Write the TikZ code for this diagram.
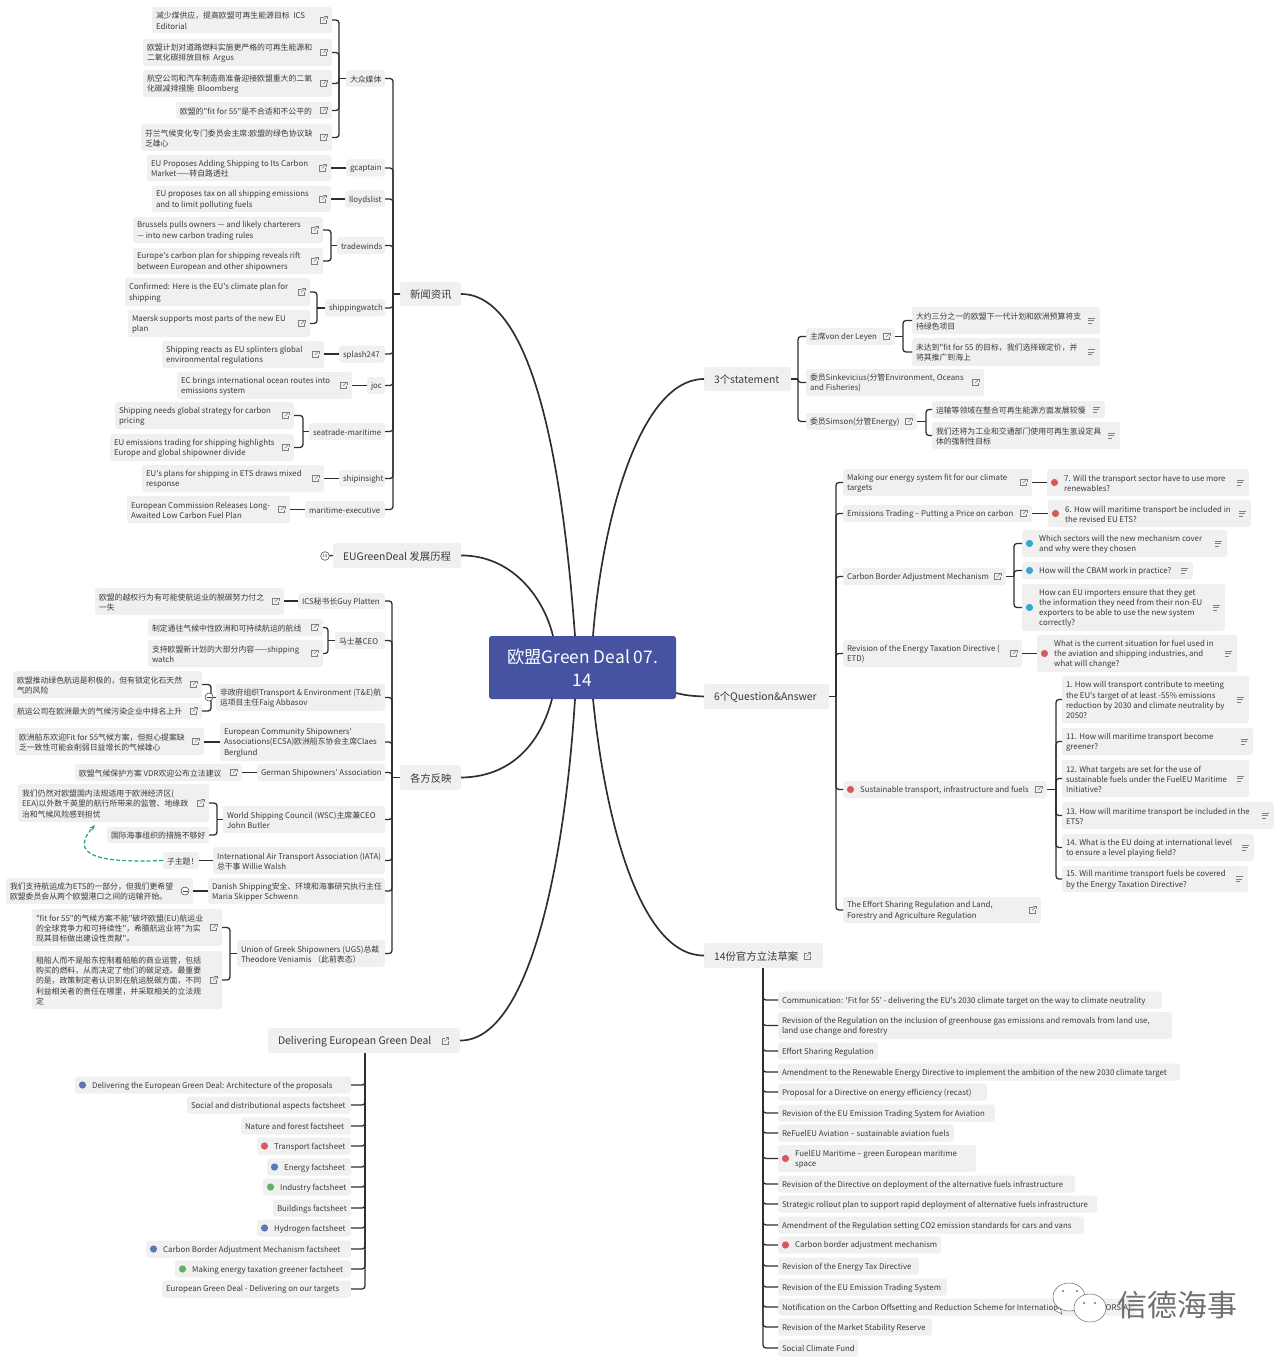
\documentclass[tikz,border=0pt]{standalone}
\usepackage{fontspec}
\newfontfamily\nf{Noto Sans CJK SC}
\setmainfont{Noto Sans CJK SC}
\usetikzlibrary{arrows.meta,calc}
\definecolor{boxg}{HTML}{F0F0F0}
\definecolor{linec}{HTML}{2E2E2E}
\definecolor{txt}{HTML}{3A3A3A}
\definecolor{rootb}{HTML}{4553A0}
\definecolor{dotr}{HTML}{D65A5A}
\definecolor{dotc}{HTML}{39A5D0}
\definecolor{dotb}{HTML}{5A78B4}
\definecolor{dotg}{HTML}{63AE63}
\definecolor{teal1}{HTML}{2A9D8F}
\definecolor{wmc}{HTML}{707070}
\tikzset{
 box/.style={fill=boxg,rounded corners=2pt,inner sep=0pt,outer sep=0pt,text=txt},
 conn/.style={draw=linec,line width=0.95pt},
 branch/.style={draw=linec,line width=1.25pt},
 iconl/.style={draw=#1,line width=0.4pt},
 iconl/.default=gray
}
\def\curpad{3}
\def\curfont{\nf\fontsize{5.9}{7.7}\selectfont}
\newcommand\iL[2]{\begin{scope}[shift={(#1,#2)}]\draw[iconl] (0,-3) -- (-3,-3) -- (-3,3) -- (3,3) -- (3,0);\draw[iconl] (-0.5,0.5) -- (3.5,-3.5);\draw[iconl] (0.8,-3.5) -- (3.5,-3.5) -- (3.5,-0.8);\end{scope}}
\newcommand\iN[2]{\begin{scope}[shift={(#1,#2)}]\draw[iconl] (-3.5,-2.5) -- (3.5,-2.5);\draw[iconl] (-3.5,0) -- (2,0);\draw[iconl] (-3.5,2.5) -- (0.5,2.5);\end{scope}}
\newcommand\iM[2]{\begin{scope}[shift={(#1,#2)}]\draw[iconl=darkgray,fill=white] (0,0) circle[radius=3pt];\draw[iconl=darkgray] (-2.5,0) -- (2.5,0);\end{scope}}
\newcommand\iO[2]{}
% name x0 y0 x1 y1 icon dot text
\newcommand\tb[8]{%
 \pgfmathsetmacro\bw{(#4-#2)*0.75}%
 \pgfmathsetmacro\bh{(#5-#3)*0.75}%
 \pgfmathsetmacro\bcx{(#2+#4)/2}%
 \pgfmathsetmacro\bcy{(#3+#5)/2}%
 \if\relax\detokenize{#7}\relax\def\bp{\curpad}\else\def\bp{12.9}\fi
 \node[box,minimum width=\bw pt,minimum height=\bh pt] (#1) at (\bcx,\bcy) {\curfont\hspace*{\bp pt}\rlap{\parbox[c]{900pt}{\vspace*{1.2pt}\raggedright #8}}\hspace*{\dimexpr\bw pt-\bp pt\relax}};
 \if\relax\detokenize{#7}\relax\else\fill[#7] ($(#2,\bcy)+(7.5,0)$) circle[radius=2.7pt];\fi
 \pgfmathsetmacro\bix{#4-8.5}%
 #6{\bix}{\bcy}%
}
\newcommand\lkL[3]{\coordinate (sp) at (#3,0);\draw[conn] (#1.west) -- (sp |- #1.west);\draw[conn,rounded corners=2.2pt] (sp |- #1.west) -- (sp |- #2.east) -- (#2.east);}
\newcommand\lkR[3]{\coordinate (sp) at (#3,0);\draw[conn] (#1.east) -- (sp |- #1.east);\draw[conn,rounded corners=2.2pt] (sp |- #1.east) -- (sp |- #2.west) -- (#2.west);}
\newcommand\lkDL[3]{\coordinate (sp) at (#3,0);\draw[conn,rounded corners=2.2pt] (sp |- #1.south) -- (sp |- #2.east) -- (#2.east);}
\newcommand\lkDR[3]{\coordinate (sp) at (#3,0);\draw[conn,rounded corners=2.2pt] (sp |- #1.south) -- (sp |- #2.west) -- (#2.west);}
\newcommand\lkSL[2]{\draw[conn] (#1.west) -- (#1.west -| #2.east);}
\newcommand\lkSR[2]{\draw[conn] (#1.east) -- (#1.east -| #2.west);}
\begin{document}
\begin{tikzpicture}[x=0.75pt,y=-0.75pt]
\useasboundingbox (0,0) rectangle (1280,1362);
\fill[white] (0,0) rectangle (1280,1362);
% root
\node[fill=rootb,rounded corners=2pt,minimum width=140.25pt,minimum height=47.25pt,inner sep=0pt,text=white,align=center,font=\nf\fontsize{13}{17.5}\selectfont] (root) at (582.5,667.5) {欧盟Green Deal 07.\\14};
\coordinate (rN) at (575,636);\coordinate (rE) at (553,636);\coordinate (rF) at (552,699);\coordinate (rD) at (575,699);
\coordinate (rS) at (593,636);\coordinate (rQ) at (676,693);\coordinate (rL) at (593,699);
% level 1
\def\curpad{7.5}\def\curfont{\nf\fontsize{7.8}{10}\selectfont}
\tb{news}{400}{282}{461}{306}{\iO}{}{新闻资讯}
\tb{eugd}{333}{543}{461}{568}{\iO}{}{EUGreenDeal 发展历程}
\tb{resp}{400}{765}{461}{790}{\iO}{}{各方反映}
\tb{deliv}{268}{1028}{460}{1053}{\iO}{}{Delivering European Green Deal}
\iL{445}{1041}
\tb{stmt}{704}{367}{791}{391}{\iO}{}{3个statement}
\tb{qa}{704}{684}{829}{709}{\iO}{}{6个Question\&Answer}
\tb{laws}{704}{943}{823}{968}{\iO}{}{14份官方立法草案}
\iL{807}{956}
\def\curpad{3}\def\curfont{\nf\fontsize{5.9}{7.7}\selectfont}
\draw[branch] (news.east) .. controls (540,294) and (565,500) .. (rN);
\draw[branch] (eugd.east) .. controls (510,555) and (543,595) .. (rE);
\draw[branch] (resp.east) .. controls (510,777) and (540,745) .. (rF);
\draw[branch] (deliv.east) .. controls (530,1041) and (565,860) .. (rD);
\draw[branch] (stmt.west) .. controls (640,379) and (602,520) .. (rS);
\draw[branch] (qa.west) .. controls (695,696) and (688,696) .. (rQ);
\draw[branch] (laws.west) .. controls (640,956) and (605,820) .. (rL);
% counter
\node[circle,draw=darkgray,line width=0.4pt,minimum size=6.5pt,inner sep=0pt,font=\nf\fontsize{3.2}{4}\selectfont,text=txt] (cnt) at (325,556) {19};
\draw[conn] (cnt) -- (eugd.west);
% News
\tb{m0}{346}{70}{385}{87}{\iO}{}{大众媒体}
\tb{m1}{152}{7}{332}{33}{\iL}{}{减少煤供应，提高欧盟可再生能源目标 \ ICS\\Editorial}
\tb{m2}{143}{39}{332}{66}{\iL}{}{欧盟计划对道路燃料实施更严格的可再生能源和\\二氧化碳排放目标 \ Argus}
\tb{m3}{143}{70}{332}{97}{\iL}{}{航空公司和汽车制造商准备迎接欧盟重大的二氧\\化碳减排措施 \ Bloomberg}
\tb{m4}{176}{102}{332}{119}{\iL}{}{欧盟的"fit for 55"是不合适和不公平的}
\tb{m5}{141}{124}{332}{151}{\iL}{}{芬兰气候变化专门委员会主席:欧盟的绿色协议缺\\乏雄心}
\lkL{m0}{m1}{339}\lkL{m0}{m2}{339}\lkL{m0}{m3}{339}\lkL{m0}{m4}{339}\lkL{m0}{m5}{339}
\tb{g0}{346}{159.5}{385}{176.5}{\iO}{}{gcaptain}
\tb{g1}{147}{155}{331}{181}{\iL}{}{EU Proposes Adding Shipping to Its Carbon\\Market——转自路透社}
\lkSL{g0}{g1}
\tb{l0}{345}{190.5}{385}{207.5}{\iO}{}{lloydslist}
\tb{l1}{152}{186}{331}{212}{\iL}{}{EU proposes tax on all shipping emissions\\and to limit polluting fuels}
\lkSL{l0}{l1}
\tb{t0}{337}{237}{385}{254}{\iO}{}{tradewinds}
\tb{t1}{133}{217}{323}{243}{\iL}{}{Brussels pulls owners — and likely charterers\\— into new carbon trading rules}
\tb{t2}{133}{248}{323}{274}{\iL}{}{Europe's carbon plan for shipping reveals rift\\between European and other shipowners}
\lkL{t0}{t1}{331}\lkL{t0}{t2}{331}
\tb{s0}{325}{299.5}{385}{316.5}{\iO}{}{shippingwatch}
\tb{s1}{125}{278}{310}{306}{\iL}{}{Confirmed: Here is the EU's climate plan for\\shipping}
\tb{s2}{128}{310}{310}{337}{\iL}{}{Maersk supports most parts of the new EU\\plan}
\lkL{s0}{s1}{317}\lkL{s0}{s2}{317}
\tb{p0}{339}{345.5}{385}{362.5}{\iO}{}{splash247}
\tb{p1}{162}{341}{324}{368}{\iL}{}{Shipping reacts as EU splinters global\\environmental regulations}
\lkSL{p0}{p1}
\tb{j0}{367}{377}{385}{394}{\iO}{}{joc}
\tb{j1}{177}{372}{352}{399}{\iL}{}{EC brings international ocean routes into\\emissions system}
\lkSL{j0}{j1}
\tb{e0}{309}{423}{385}{440}{\iO}{}{seatrade-maritime}
\tb{e1}{115}{402}{294}{429}{\iL}{}{Shipping needs global strategy for carbon\\pricing}
\tb{e2}{110}{434}{294}{461}{\iL}{}{EU emissions trading for shipping highlights\\Europe and global shipowner divide}
\lkL{e0}{e1}{303}\lkL{e0}{e2}{303}
\tb{i0}{339}{470}{385}{487}{\iO}{}{shipinsight}
\tb{i1}{142}{465}{324}{492}{\iL}{}{EU's plans for shipping in ETS draws mixed\\response}
\lkSL{i0}{i1}
\tb{x0}{305}{501}{385}{518}{\iO}{}{maritime-executive}
\tb{x1}{127}{496}{290}{523}{\iL}{}{European Commission Releases Long-\\Awaited Low Carbon Fuel Plan}
\lkSL{x0}{x1}
\lkL{news}{m0}{393}\lkL{news}{g0}{393}\lkL{news}{l0}{393}\lkL{news}{t0}{393}\lkL{news}{s0}{393}\lkL{news}{p0}{393}\lkL{news}{j0}{393}\lkL{news}{e0}{393}\lkL{news}{i0}{393}\lkL{news}{x0}{393}
% Responses
\tb{a0}{298}{593}{385}{609}{\iO}{}{ICS秘书长Guy Platten}
\tb{a1}{95}{588}{284}{615}{\iL}{}{欧盟的越权行为有可能使航运业的脱碳努力付之\\一失}
\lkSL{a0}{a1}
\tb{b0}{335}{632}{385}{649}{\iO}{}{马士基CEO}
\tb{b1}{148}{619}{323}{636}{\iL}{}{制定通往气候中性欧洲和可持续航运的航线}
\tb{b2}{148}{640}{323}{667}{\iL}{}{支持欧盟新计划的大部分内容——shipping\\watch}
\lkL{b0}{b1}{328}\lkL{b0}{b2}{328}
\tb{c0}{216}{684}{385}{711}{\iO}{}{非政府组织Transport \& Environment (T\&E)航\\运项目主任Faig Abbasov}
\tb{c1}{13}{671}{202}{698}{\iL}{}{欧盟推动绿色航运是积极的，但有锁定化石天然\\气的风险}
\tb{c2}{13}{703}{202}{719}{\iL}{}{航运公司在欧洲最大的气候污染企业中排名上升}
\lkL{c0}{c1}{211}\lkL{c0}{c2}{211}
\iM{209}{697}
\tb{d0}{220}{723}{385}{761}{\iO}{}{European Community Shipowners'\\Associations(ECSA)欧洲船东协会主席Claes\\Berglund}
\tb{d1}{15}{728}{204}{755}{\iL}{}{欧洲船东欢迎Fit for 55气候方案，但担心提案缺\\乏一致性可能会削弱日益增长的气候雄心}
\lkSL{d0}{d1}
\tb{f0}{257}{764}{385}{781}{\iO}{}{German Shipowners' Association}
\tb{f1}{75}{764}{242}{781}{\iL}{}{欧盟气候保护方案 VDR欢迎公布立法建议}
\lkSL{f0}{f1}
\tb{h0}{223}{806}{385}{833}{\iO}{}{World Shipping Council (WSC)主席兼CEO\\John Butler}
\tb{h1}{18}{784}{209}{822}{\iL}{}{我们仍然对欧盟国内法规适用于欧洲经济区(\\EEA)以外数千英里的航行所带来的监管、地缘政\\治和气候风险感到担忧}
\tb{h2}{107}{827}{209}{843}{\iO}{}{国际海事组织的措施不够好}
\lkL{h0}{h1}{217}\lkL{h0}{h2}{217}
\tb{k0}{213}{847}{385}{874}{\iO}{}{International Air Transport Association (IATA)\\总干事 Willie Walsh}
\tb{k1}{163}{852}{199}{869}{\iO}{}{子主题！}
\lkSL{k0}{k1}
\coordinate (arrowend) at (95,825);
\draw[teal1,line width=0.9pt,dash pattern=on 3pt off 1.6pt,-{Stealth[length=4.5pt,width=3.5pt]}] (k1.west) .. controls (122,862) and (62,862) .. (arrowend);
\tb{n0}{208}{878}{385}{904}{\iO}{}{Danish Shipping安全、环境和海事研究执行主任\\Maria Skipper Schwenn}
\tb{n1}{6}{878}{193}{904}{\iO}{}{我们支持航运成为ETS的一部分，但我们更希望\\欧盟委员会从两个欧盟港口之间的运输开始。}
\iM{185}{891}
\lkSL{n0}{n1}
\tb{u0}{237}{940}{385}{967}{\iO}{}{Union of Greek Shipowners (UGS)总裁\\Theodore Veniamis （此前表态）}
\tb{u1}{32}{909}{222}{946}{\iL}{}{"fit for 55"的气候方案不能"破坏欧盟(EU)航运业\\的全球竞争力和可持续性"，希腊航运业将"为实\\现其目标做出建设性贡献"。}
\tb{u2}{32}{951}{222}{1009}{\iL}{}{租船人而不是船东控制着船舶的商业运营，包括\\购买的燃料，从而决定了他们的碳足迹。最重要\\的是，政策制定者认识到在航运脱碳方面，不同\\利益相关者的责任在哪里，并采取相关的立法规\\定}
\lkL{u0}{u1}{230}\lkL{u0}{u2}{230}
\lkL{resp}{a0}{392}\lkL{resp}{b0}{392}\lkL{resp}{c0}{392}\lkL{resp}{d0}{392}\lkL{resp}{f0}{392}\lkL{resp}{h0}{392}\lkL{resp}{k0}{392}\lkL{resp}{n0}{392}\lkL{resp}{u0}{392}
% Delivering
\tb{v1}{75}{1076.5}{351}{1093.5}{\iO}{dotb}{Delivering the European Green Deal: Architecture of the proposals}
\tb{v2}{187}{1096.5}{351}{1113.5}{\iO}{}{Social and distributional aspects factsheet}
\tb{v3}{241}{1117.5}{351}{1134.5}{\iO}{}{Nature and forest factsheet}
\tb{v4}{257}{1137.5}{351}{1154.5}{\iO}{dotr}{Transport factsheet}
\tb{v5}{267}{1158.5}{351}{1175.5}{\iO}{dotb}{Energy factsheet}
\tb{v6}{263}{1178.5}{351}{1195.5}{\iO}{dotg}{Industry factsheet}
\tb{v7}{273}{1199.5}{351}{1216.5}{\iO}{}{Buildings factsheet}
\tb{v8}{257}{1219.5}{351}{1236.5}{\iO}{dotb}{Hydrogen factsheet}
\tb{v9}{146}{1240.5}{351}{1257.5}{\iO}{dotb}{Carbon Border Adjustment Mechanism factsheet}
\tb{v10}{175}{1260.5}{351}{1277.5}{\iO}{dotg}{Making energy taxation greener factsheet}
\tb{v11}{162}{1280.5}{351}{1297.5}{\iO}{}{European Green Deal - Delivering on our targets}
\foreach \vv in {v1,v2,v3,v4,v5,v6,v7,v8,v9,v10,v11}{\lkDL{deliv}{\vv}{365}}
% Statements
\tb{q1}{806}{328}{895}{345}{\iL}{}{主席von der Leyen}
\tb{q2}{806}{369}{984}{396}{\iL}{}{委员Sinkevicius(分管Environment, Oceans\\and Fisheries)}
\tb{q3}{806}{413}{917}{430}{\iL}{}{委员Simson(分管Energy)}
\lkR{stmt}{q1}{798}\lkR{stmt}{q2}{798}\lkR{stmt}{q3}{798}
\tb{q11}{912}{307}{1100}{334}{\iN}{}{大约三分之一的欧盟下一代计划和欧洲预算将支\\持绿色项目}
\tb{q12}{912}{338}{1100}{366}{\iN}{}{未达到"fit for 55 的目标，我们选择碳定价，并\\将其推广到海上}
\lkR{q1}{q11}{903}\lkR{q1}{q12}{903}
\tb{q31}{932}{401}{1105}{418}{\iN}{}{运输等领域在整合可再生能源方面发展较慢}
\tb{q32}{932}{422}{1120}{449}{\iN}{}{我们还将为工业和交通部门使用可再生氢设定具\\体的强制性目标}
\lkR{q3}{q31}{926}\lkR{q3}{q32}{926}
% QA
\tb{w1}{843}{469}{1032}{496}{\iL}{}{Making our energy system fit for our climate\\targets}
\tb{w11}{1047}{469}{1249}{496}{\iN}{dotr}{7. Will the transport sector have to use more\\renewables?}
\lkSR{w1}{w11}
\tb{w2}{843}{505}{1032}{522}{\iL}{}{Emissions Trading – Putting a Price on carbon}
\tb{w21}{1048}{500}{1251}{527}{\iN}{dotr}{6. How will maritime transport be included in\\the revised EU ETS?}
\lkSR{w2}{w21}
\tb{w3}{843}{568}{1006}{585}{\iL}{}{Carbon Border Adjustment Mechanism}
\tb{w31}{1022}{530}{1227}{557}{\iN}{dotc}{Which sectors will the new mechanism cover\\and why were they chosen}
\tb{w32}{1022}{562}{1193}{579}{\iN}{dotc}{How will the CBAM work in practice?}
\tb{w33}{1022}{584}{1225}{631}{\iN}{dotc}{How can EU importers ensure that they get\\the information they need from their non-EU\\exporters to be able to use the new system\\correctly?}
\lkR{w3}{w31}{1014}\lkR{w3}{w32}{1014}\lkR{w3}{w33}{1014}
\tb{w4}{843}{640}{1022}{667}{\iL}{}{Revision of the Energy Taxation Directive (\\ETD)}
\tb{w41}{1037}{635}{1237}{672}{\iN}{dotr}{What is the current situation for fuel used in\\the aviation and shipping industries, and\\what will change?}
\lkSR{w4}{w41}
\tb{w5}{843}{781}{1047}{798}{\iL}{dotr}{Sustainable transport, infrastructure and fuels}
\tb{w51}{1062}{676}{1249}{723}{\iN}{}{1. How will transport contribute to meeting\\the EU's target of at least -55\% emissions\\reduction by 2030 and climate neutrality by\\2050?}
\tb{w52}{1062}{728}{1253}{755}{\iN}{}{11. How will maritime transport become\\greener?}
\tb{w53}{1062}{760}{1249}{797}{\iN}{}{12. What targets are set for the use of\\sustainable fuels under the FuelEU Maritime\\Initiative?}
\tb{w54}{1062}{802}{1274}{829}{\iN}{}{13. How will maritime transport be included in the\\ETS?}
\tb{w55}{1062}{834}{1254}{861}{\iN}{}{14. What is the EU doing at international level\\to ensure a level playing field?}
\tb{w56}{1062}{866}{1248}{892}{\iN}{}{15. Will maritime transport fuels be covered\\by the Energy Taxation Directive?}
\foreach \vv in {w51,w52,w53,w54,w55,w56}{\lkR{w5}{\vv}{1056}}
\tb{w6}{843}{897}{1041}{923}{\iL}{}{The Effort Sharing Regulation and Land,\\Forestry and Agriculture Regulation}
\foreach \vv in {w1,w2,w3,w4,w5,w6}{\lkR{qa}{\vv}{836}}
% Laws
\tb{y1}{778}{991.5}{1162}{1008.5}{\iO}{}{Communication: 'Fit for 55' - delivering the EU's 2030 climate target on the way to climate neutrality}
\tb{y2}{778}{1012}{1172}{1039}{\iO}{}{Revision of the Regulation on the inclusion of greenhouse gas emissions and removals from land use,\\land use change and forestry}
\tb{y3}{778}{1042.5}{878}{1059.5}{\iO}{}{Effort Sharing Regulation}
\tb{y4}{778}{1063.5}{1180}{1080.5}{\iO}{}{Amendment to the Renewable Energy Directive to implement the ambition of the new 2030 climate target}
\tb{y5}{778}{1083.5}{987}{1100.5}{\iO}{}{Proposal for a Directive on energy efficiency (recast)}
\tb{y6}{778}{1104.5}{995}{1121.5}{\iO}{}{Revision of the EU Emission Trading System for Aviation}
\tb{y7}{778}{1124.5}{954}{1141.5}{\iO}{}{ReFuelEU Aviation – sustainable aviation fuels}
\tb{y8}{778}{1145}{976}{1172}{\iO}{dotr}{FuelEU Maritime – green European maritime\\space}
\tb{y9}{778}{1175.5}{1075}{1192.5}{\iO}{}{Revision of the Directive on deployment of the alternative fuels infrastructure}
\tb{y10}{778}{1195.5}{1097}{1212.5}{\iO}{}{Strategic rollout plan to support rapid deployment of alternative fuels infrastructure}
\tb{y11}{778}{1216.5}{1084}{1233.5}{\iO}{}{Amendment of the Regulation setting CO2 emission standards for cars and vans}
\tb{y12}{778}{1236.5}{941}{1253.5}{\iO}{dotr}{Carbon border adjustment mechanism}
\tb{y13}{778}{1257.5}{919}{1274.5}{\iO}{}{Revision of the Energy Tax Directive}
\tb{y14}{778}{1278.5}{947}{1295.5}{\iO}{}{Revision of the EU Emission Trading System}
\tb{y15}{778}{1298.5}{1135}{1315.5}{\iO}{}{Notification on the Carbon Offsetting and Reduction Scheme for International Aviation (CORSIA)}
\tb{y16}{778}{1318.5}{932}{1335.5}{\iO}{}{Revision of the Market Stability Reserve}
\tb{y17}{778}{1339.5}{858}{1356.5}{\iO}{}{Social Climate Fund}
\foreach \vv in {y1,y2,y3,y4,y5,y6,y7,y8,y9,y10,y11,y12,y13,y14,y15,y16,y17}{\lkDR{laws}{\vv}{763}}
% Watermark
\draw[wmc,line width=0.4pt,fill=white] (1069,1297) ellipse[x radius=16,y radius=14];
\draw[wmc,line width=0.4pt,fill=white] (1054,1310) -- (1060,1308) -- (1062,1314) -- cycle;
\draw[wmc,line width=0.4pt,fill=white] (1090,1308) ellipse[x radius=16,y radius=14];
\fill[wmc] (1063,1291) circle[radius=0.9pt] (1077,1291) circle[radius=0.9pt] (1084,1303) circle[radius=0.9pt] (1095,1303) circle[radius=0.9pt];
\node[text=wmc,inner sep=0pt,font=\nf\fontsize{22.5}{24}\selectfont] (wm) at (1177,1305) {信德海事};
\end{tikzpicture}
\end{document}
